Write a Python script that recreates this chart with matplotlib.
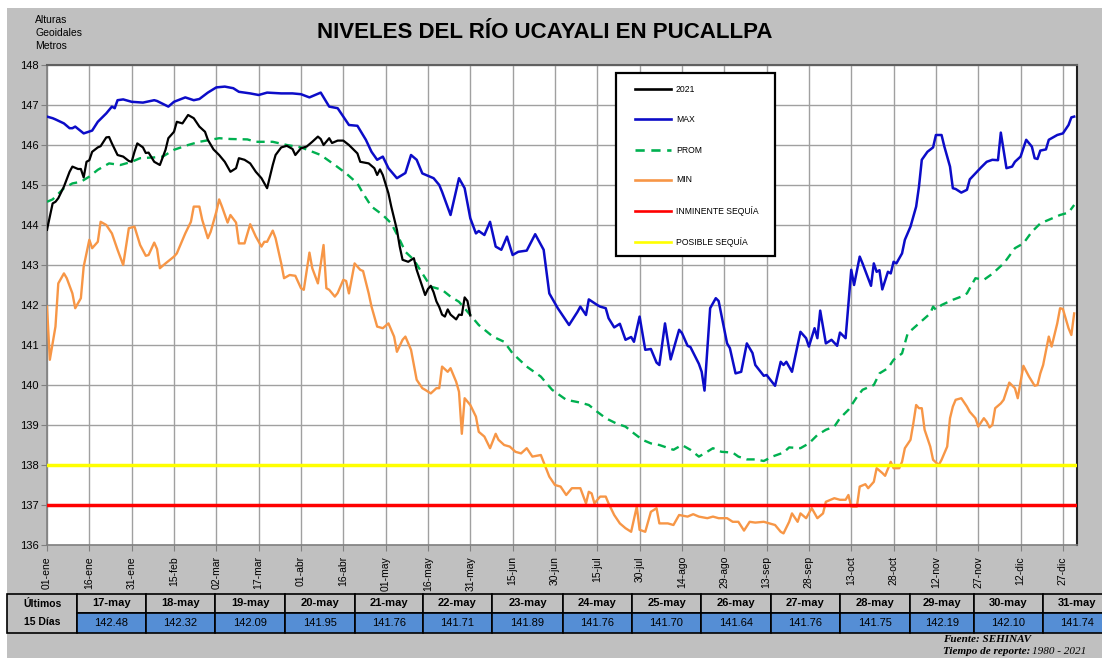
import matplotlib
matplotlib.use("Agg")
import matplotlib.pyplot as plt
from matplotlib.patches import Rectangle
from matplotlib.lines import Line2D

plt.rcParams['font.family'] = ['Liberation Sans', 'DejaVu Sans']

# ---------------- data ----------------
tick_days = [0, 15, 30, 45, 60, 75, 90, 105, 120, 135, 150, 165, 180, 195, 210,
             225, 240, 255, 270, 285, 300, 315, 330, 345, 360]
tick_labels = ['01-ene', '16-ene', '31-ene', '15-feb', '02-mar', '17-mar', '01-abr',
               '16-abr', '01-may', '16-may', '31-may', '15-jun', '30-jun', '15-jul',
               '30-jul', '14-ago', '29-ago', '13-sep', '28-sep', '13-oct', '28-oct',
               '12-nov', '27-nov', '12-dic', '27-dic']

table_dates = ['17-may', '18-may', '19-may', '20-may', '21-may', '22-may', '23-may',
               '24-may', '25-may', '26-may', '27-may', '28-may', '29-may', '30-may', '31-may']
table_values = [142.48, 142.32, 142.09, 141.95, 141.76, 141.71, 141.89,
                141.76, 141.70, 141.64, 141.76, 141.75, 142.19, 142.10, 141.74]

y2021_days = [0, 2, 3, 4, 6, 8, 9, 11, 12, 13, 14, 15, 16, 18, 19, 21, 22, 23, 25, 27, 29, 30,
              31, 32, 34, 35, 36, 38, 40, 42, 43, 45, 46, 48, 50, 52, 54, 56, 57, 59, 61, 63,
              65, 67, 68, 70, 72, 74, 76, 78, 80, 81, 83, 85, 87, 88, 90, 92, 94, 96, 97, 98,
              100, 101, 103, 105, 107, 110, 111, 114, 116, 117, 118, 119, 121, 122, 124, 125,
              126, 128, 130, 131, 133, 134, 135,
              136, 137, 138, 139, 140, 141, 142, 143, 144, 145, 146, 147, 148, 149, 150]
y2021_vals = [143.88, 144.54, 144.58, 144.67, 144.96, 145.33, 145.46, 145.40, 145.40, 145.19,
              145.58, 145.62, 145.83, 145.94, 145.97, 146.19, 146.20, 146.04, 145.75, 145.71,
              145.60, 145.58, 145.83, 146.04, 145.94, 145.80, 145.81, 145.58, 145.50, 145.88,
              146.17, 146.33, 146.58, 146.54, 146.75, 146.67, 146.46, 146.33, 146.13, 145.89,
              145.75, 145.58, 145.33, 145.42, 145.67, 145.63, 145.54, 145.33, 145.17, 144.92,
              145.50, 145.75, 145.94, 145.98, 145.90, 145.75, 145.92, 145.96, 146.08, 146.21,
              146.15, 146.00, 146.17, 146.05, 146.11, 146.11, 146.00, 145.79, 145.58, 145.54,
              145.42, 145.25, 145.39, 145.25, 144.79, 144.46, 143.88, 143.46, 143.13, 143.08,
              143.17, 142.88, 142.46, 142.25, 142.40,
              142.48, 142.32, 142.09, 141.95, 141.76, 141.71, 141.89, 141.76, 141.70, 141.64,
              141.76, 141.75, 142.19, 142.10, 141.74]

max_days = [0, 2, 3, 6, 8, 9, 10, 13, 16, 18, 21, 23, 24, 25, 27, 30, 34, 38, 39, 43, 45, 49,
            52, 54, 57, 60, 63, 66, 68, 72, 75, 78, 83, 87, 90, 93, 97, 100, 103, 107, 110, 113,
            115, 117, 119, 121, 124, 127, 129, 131, 133, 137, 139, 140, 143, 146, 148, 150, 152,
            153, 155, 157, 159, 161, 163, 165, 167, 170, 173, 176, 178, 181, 183, 185, 188, 189,
            191, 192, 195, 196, 198, 199, 201, 203, 205, 207, 208, 210, 212, 214, 216, 217, 219,
            221, 224, 225, 227, 228, 231, 232, 233, 235, 237, 238, 241, 242, 244, 246, 248, 250,
            251, 254, 255, 258, 260, 261, 262, 264, 267, 269, 270, 272, 273, 274, 276, 278, 280,
            281, 283, 285, 286, 288, 289, 292, 293, 294, 295, 296, 298, 299, 300, 301, 303, 304,
            306, 308, 309, 310, 312, 314, 315, 317, 318, 320, 321, 322, 324, 326, 327, 329, 331,
            333, 335, 337, 338, 340, 342, 343, 345, 347, 349, 350, 351, 352, 354, 355, 358, 360,
            362, 363, 364]
max_vals = [146.71, 146.67, 146.64, 146.54, 146.42, 146.42, 146.46, 146.29, 146.36, 146.58,
            146.79, 146.96, 146.92, 147.12, 147.14, 147.08, 147.06, 147.12, 147.10, 146.96,
            147.08, 147.19, 147.12, 147.15, 147.31, 147.44, 147.46, 147.42, 147.33, 147.29,
            147.25, 147.31, 147.29, 147.29, 147.27, 147.19, 147.31, 146.96, 146.92, 146.50,
            146.48, 146.13, 145.83, 145.63, 145.71, 145.42, 145.17, 145.30, 145.75, 145.63,
            145.29, 145.17, 145.00, 144.83, 144.25, 145.17, 144.92, 144.17, 143.79, 143.85,
            143.75, 144.08, 143.46, 143.38, 143.71, 143.25, 143.33, 143.36, 143.77, 143.38,
            142.29, 141.92, 141.71, 141.50, 141.83, 141.96, 141.75, 142.14, 142.00, 141.96,
            141.92, 141.67, 141.44, 141.53, 141.13, 141.20, 141.08, 141.71, 140.88, 140.90,
            140.56, 140.50, 141.54, 140.64, 141.38, 141.30, 140.98, 140.95, 140.53, 140.33,
            139.86, 141.92, 142.17, 142.10, 141.04, 140.92, 140.29, 140.33, 141.04, 140.80,
            140.50, 140.23, 140.25, 139.98, 140.58, 140.50, 140.58, 140.33, 141.33, 141.17,
            140.96, 141.42, 141.17, 141.86, 141.04, 141.13, 140.98, 141.31, 141.17, 142.88,
            142.50, 143.21, 143.04, 142.48, 143.04, 142.83, 142.87, 142.39, 142.83, 142.79,
            143.08, 143.04, 143.29, 143.63, 143.96, 144.46, 144.96, 145.63, 145.83, 145.94,
            146.25, 146.25, 145.96, 145.46, 144.92, 144.90, 144.81, 144.88, 145.14, 145.29,
            145.44, 145.58, 145.63, 145.62, 146.31, 145.42, 145.46, 145.58, 145.71, 146.13,
            145.96, 145.67, 145.65, 145.86, 145.89, 146.13, 146.25, 146.29, 146.50, 146.69,
            146.71]

prom_days = [0, 2, 6, 9, 12, 15, 18, 22, 26, 30, 33, 38, 41, 45, 50, 54, 58, 61, 65, 71, 74,
             80, 85, 90, 93, 97, 102, 106, 110, 112, 115, 119, 122, 125, 127, 130, 133, 136,
             140, 143, 146, 150, 153, 158, 162, 165, 170, 175, 179, 184, 189, 192, 195, 198,
             202, 205, 208, 211, 214, 217, 222, 225, 228, 231, 233, 236, 239, 243, 245, 248,
             251, 254, 257, 261, 263, 267, 270, 273, 276, 279, 281, 284, 287, 289, 293, 295,
             298, 300, 303, 305, 309, 313, 314, 315, 317, 321, 324, 326, 329, 332, 335, 339,
             340, 343, 346, 349, 352, 355, 359, 362, 364]
prom_vals = [144.58, 144.64, 144.92, 145.04, 145.08, 145.21, 145.38, 145.54, 145.50, 145.58,
             145.67, 145.69, 145.71, 145.88, 146.00, 146.08, 146.13, 146.17, 146.15, 146.14,
             146.08, 146.08, 146.00, 145.94, 145.86, 145.75, 145.50, 145.29, 145.04, 144.79,
             144.46, 144.25, 144.04, 143.63, 143.33, 143.13, 142.79, 142.46, 142.38, 142.21,
             142.08, 141.75, 141.50, 141.21, 141.08, 140.79, 140.46, 140.21, 139.88, 139.63,
             139.56, 139.50, 139.33, 139.17, 139.03, 138.96, 138.79, 138.63, 138.54, 138.50,
             138.38, 138.50, 138.38, 138.21, 138.29, 138.42, 138.33, 138.31, 138.21, 138.14,
             138.14, 138.10, 138.21, 138.31, 138.44, 138.42, 138.54, 138.75, 138.88, 138.96,
             139.17, 139.38, 139.70, 139.88, 140.00, 140.29, 140.42, 140.63, 140.79, 141.29,
             141.54, 141.79, 141.96, 141.88, 142.00, 142.13, 142.21, 142.29, 142.67, 142.63,
             142.78, 143.04, 143.13, 143.42, 143.54, 143.83, 144.04, 144.13, 144.25, 144.31,
             144.50]

min_days = [0, 1, 3, 4, 6, 7, 9, 10, 12, 13, 15, 16, 18, 19, 21, 23, 25, 27, 29, 31, 33, 35,
            36, 38, 39, 40, 42, 45, 46, 49, 51, 52, 54, 55, 57, 58, 60, 61, 62, 64, 65, 67, 68,
            70, 72, 74, 76, 77, 78, 80, 81, 83, 84, 86, 88, 90, 91, 93, 94, 96, 98, 99, 100,
            102, 103, 105, 106, 107, 109, 111, 112, 114, 115, 117, 119, 121, 123, 124, 126, 127,
            129, 131, 133, 134, 136, 138, 139, 140, 142, 143, 145, 146, 147, 148, 150, 152, 153,
            155, 157, 159, 160, 162, 164, 166, 168, 170, 172, 175, 178, 180, 182, 184, 186, 189,
            191, 192, 193, 194, 196, 198, 199, 201, 203, 205, 207, 209, 210, 212, 214, 216, 217,
            220, 222, 224, 227, 229, 231, 234, 236, 238, 241, 243, 245, 247, 249, 251, 254, 256,
            258, 260, 261, 263, 264, 266, 267, 269, 271, 273, 275, 276, 279, 281, 283, 284, 285,
            287, 288, 290, 291, 293, 294, 296, 297, 299, 300, 302, 303, 304, 306, 307, 308, 309,
            310, 311, 313, 314, 316, 317, 319, 320, 321, 322, 324, 326, 327, 329, 330, 332, 333,
            334, 335, 336, 338, 339, 341, 343, 344, 346, 348, 350, 351, 352, 353, 355, 356, 358,
            359, 360, 362, 363, 364]
min_vals = [141.96, 140.63, 141.46, 142.54, 142.79, 142.67, 142.29, 141.92, 142.17, 142.96,
            143.63, 143.42, 143.58, 144.08, 144.00, 143.79, 143.38, 143.00, 143.92, 143.96,
            143.50, 143.23, 143.25, 143.56, 143.40, 142.92, 143.04, 143.21, 143.29, 143.79,
            144.08, 144.46, 144.46, 144.13, 143.67, 143.83, 144.33, 144.64, 144.46, 144.06,
            144.25, 144.06, 143.54, 143.54, 144.02, 143.71, 143.46, 143.58, 143.58, 143.86,
            143.67, 143.04, 142.67, 142.75, 142.73, 142.42, 142.38, 143.31, 142.92, 142.54,
            143.50, 142.42, 142.38, 142.21, 142.30, 142.63, 142.60, 142.29, 143.04, 142.88,
            142.85, 142.29, 141.96, 141.46, 141.42, 141.54, 141.21, 140.83, 141.13, 141.21,
            140.88, 140.13, 139.92, 139.88, 139.79, 139.92, 139.92, 140.46, 140.33, 140.42,
            140.08, 139.83, 138.78, 139.67, 139.50, 139.21, 138.83, 138.71, 138.42, 138.78,
            138.63, 138.50, 138.46, 138.33, 138.29, 138.42, 138.21, 138.25, 137.71, 137.50,
            137.46, 137.25, 137.42, 137.42, 137.04, 137.33, 137.29, 137.04, 137.21, 137.21,
            137.04, 136.75, 136.54, 136.42, 136.33, 136.96, 136.38, 136.33, 136.83, 136.92,
            136.54, 136.54, 136.50, 136.75, 136.71, 136.77, 136.71, 136.67, 136.71, 136.67,
            136.67, 136.58, 136.58, 136.36, 136.58, 136.56, 136.58, 136.54, 136.50, 136.33,
            136.29, 136.58, 136.79, 136.58, 136.79, 136.67, 136.92, 136.67, 136.79, 137.08,
            137.17, 137.13, 137.13, 137.25, 136.96, 136.96, 137.46, 137.52, 137.42, 137.58,
            137.92, 137.80, 137.73, 138.08, 137.92, 137.92, 138.08, 138.42, 138.63, 139.04,
            139.50, 139.42, 139.42, 138.88, 138.46, 138.13, 138.00, 138.13, 138.46, 139.17,
            139.46, 139.63, 139.67, 139.46, 139.33, 139.17, 138.96, 139.17, 139.08, 138.94,
            139.00, 139.42, 139.54, 139.63, 140.06, 139.92, 139.67, 140.48, 140.21, 139.98,
            140.00, 140.29, 140.50, 141.21, 140.96, 141.54, 141.92, 141.90, 141.42, 141.25,
            141.79]

inminente_level = 137.0
posible_level = 138.0

# ---------------- layout helpers ----------------
W, H = 1102, 658
def fx(x):
    return x / W
def fy(y):
    return 1 - y / H

fig = plt.figure(figsize=(W / 100, H / 100), dpi=100)
fig.patch.set_facecolor('white')
fig.add_artist(Rectangle((fx(7), 0), 1 - fx(7), fy(8), transform=fig.transFigure,
                         facecolor='#C0C0C0', edgecolor='none', zorder=-5))

ax = fig.add_axes([fx(47), fy(545), fx(1077) - fx(47), fy(65) - fy(545)])
ax.set_facecolor('white')

ax.plot(min_days, min_vals, color='#F79646', lw=1.7, zorder=3)
ax.plot(prom_days, prom_vals, color='#00B050', lw=1.7, ls=(0, (3.5, 2.5)), zorder=4)
ax.plot(max_days, max_vals, color='#0C0CC8', lw=1.8, zorder=5)
ax.plot(y2021_days, y2021_vals, color='black', lw=1.6, zorder=6)
ax.axhline(inminente_level, color='#FF0000', lw=2.5, zorder=7)
ax.axhline(posible_level, color='#FFFF00', lw=2.5, zorder=7)

ax.set_xlim(0, 365)
ax.set_ylim(136, 148)
ax.set_yticks(range(136, 149))
ax.set_xticks(tick_days)
ax.set_xticklabels(tick_labels, rotation=90, fontsize=7.5)
ax.tick_params(axis='y', labelsize=8, length=4, color='#808080', pad=2)
ax.tick_params(axis='x', length=4, color='#808080', pad=4)
ax.grid(True, color='#A0A0A0', lw=1.0, zorder=0)
ax.set_axisbelow(True)
for s in ['left', 'bottom']:
    ax.spines[s].set_color('#808080')
    ax.spines[s].set_linewidth(1.2)
ax.spines['top'].set_color('#606060')
ax.spines['top'].set_linewidth(1.5)
ax.spines['right'].set_color('#202020')
ax.spines['right'].set_linewidth(1.5)

# title and axis note
fig.text(fx(545), fy(32), 'NIVELES DEL RÍO UCAYALI EN PUCALLPA', ha='center', va='center',
         fontsize=16, fontweight='bold')
fig.text(fx(35), fy(15), 'Alturas\nGeoidales\nMetros', ha='left', va='top', fontsize=7.5,
         linespacing=1.4)

# legend
fig.add_artist(Rectangle((fx(616), fy(256)), fx(775) - fx(616), fy(73) - fy(256),
                         transform=fig.transFigure, facecolor='white', edgecolor='black',
                         lw=1.6, zorder=10))
leg_items = [('2021', 'black', '-'), ('MAX', '#0C0CC8', '-'), ('PROM', '#00B050', (0, (3.5, 2.5))),
             ('MIN', '#F79646', '-'), ('INMINENTE SEQUÍA', '#FF0000', '-'),
             ('POSIBLE SEQUÍA', '#FFFF00', '-')]
leg_y = [89, 119, 150, 180, 211, 242]
for (lab, col, ls), yy in zip(leg_items, leg_y):
    fig.add_artist(Line2D([fx(635), fx(671)], [fy(yy), fy(yy)], transform=fig.transFigure,
                          color=col, lw=1.9, ls=ls, zorder=11))
    fig.text(fx(676), fy(yy), lab, ha='left', va='center', fontsize=6.2, zorder=12)

# table
bounds = [77, 146, 215, 285, 355, 423, 492, 563, 632, 701, 771, 840, 910, 974, 1043, 1112]
y_top, y_mid, y_bot = 594, 613, 633
fig.add_artist(Rectangle((fx(7), fy(y_bot)), fx(77) - fx(7), fy(y_top) - fy(y_bot),
                         transform=fig.transFigure, facecolor='#C0C0C0', edgecolor='black',
                         lw=1.2, zorder=2))
fig.text(fx(42), fy(604), 'Últimos', ha='center', va='center', fontsize=7.5, fontweight='bold')
fig.text(fx(42), fy(622), '15 Días', ha='center', va='center', fontsize=7.5, fontweight='bold')
for i, (d, v) in enumerate(zip(table_dates, table_values)):
    x0, x1 = bounds[i], bounds[i + 1]
    fig.add_artist(Rectangle((fx(x0), fy(y_mid)), fx(x1) - fx(x0), fy(y_top) - fy(y_mid),
                             transform=fig.transFigure, facecolor='#C0C0C0',
                             edgecolor='black', lw=1.2, zorder=2))
    fig.add_artist(Rectangle((fx(x0), fy(y_bot)), fx(x1) - fx(x0), fy(y_mid) - fy(y_bot),
                             transform=fig.transFigure, facecolor='#558ED5',
                             edgecolor='black', lw=1.2, zorder=2))
    fig.text(fx((x0 + x1) / 2), fy((y_top + y_mid) / 2), d, ha='center', va='center',
             fontsize=8, fontweight='bold', zorder=3)
    fig.text(fx((x0 + x1) / 2), fy((y_mid + y_bot) / 2), f'{v:.2f}', ha='center',
             va='center', fontsize=8, zorder=3)

# footer
fig.text(fx(943), fy(640), 'Fuente: SEHINAV', ha='left', va='center', fontsize=8,
         family='Liberation Serif', style='italic', fontweight='bold')
fig.text(fx(943), fy(651), 'Tiempo de reporte:', ha='left', va='center', fontsize=8,
         family='Liberation Serif', style='italic', fontweight='bold')
fig.text(fx(1032), fy(651), '1980 - 2021', ha='left', va='center', fontsize=8,
         family='Liberation Serif', style='italic')

fig.savefig('out.png', dpi=100)
